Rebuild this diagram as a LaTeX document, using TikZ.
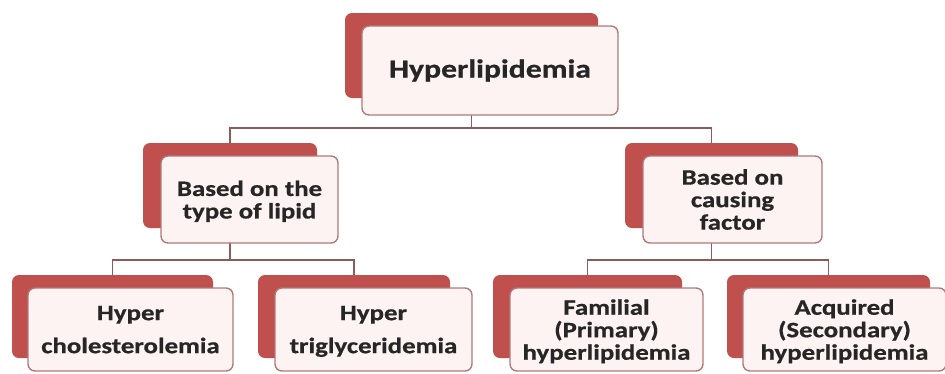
\documentclass[tikz,border=0pt]{standalone}
\usepackage{fontspec}
\newfontfamily\lblfont{Carlito}[FakeStretch=1.22, BoldFeatures={FakeBold=0.7}]
\definecolor{redA}{HTML}{C0504D}
\definecolor{paleC}{HTML}{FDF3F3}
\definecolor{edgeC}{HTML}{B07A7A}
\definecolor{linkC}{HTML}{8E5B5B}
\definecolor{inkC}{HTML}{262626}
\pgfdeclarelayer{background}
\pgfsetlayers{background,main}
\tikzset{
  backbox/.style={fill=redA, rounded corners=7pt, inner sep=0pt, anchor=center},
  frontbox/.style={draw=edgeC, line width=1.4pt, fill=paleC, rounded corners=7pt,
    inner sep=0pt, anchor=center, align=center, text=inkC,
    font={\lblfont\bfseries\fontsize{22}{22.5}\selectfont}},
  toptext/.style={font={\lblfont\bfseries\fontsize{26}{28}\selectfont}},
  widelines/.style={font={\lblfont\bfseries\fontsize{22}{33}\selectfont}},
  link/.style={draw=linkC, line width=1.5pt}
}
\begin{document}
\begin{tikzpicture}[x=1pt,y=-1pt]
\useasboundingbox (0,0) rectangle (945,373);
\begin{scope}
\clip (0,0) rectangle (945,373);
% root
\node[backbox, minimum width=253pt, minimum height=85pt] (rootB) at (471.5,55.5) {};
\node[frontbox, toptext, minimum width=256pt, minimum height=89pt] (root) at (490,70.5) {Hyperlipidemia};
% first level
\node[backbox, minimum width=174pt, minimum height=85pt] (lipidB) at (230,185.5) {};
\node[frontbox, minimum width=177pt, minimum height=87pt, text depth=0pt] (lipid) at (249.5,199.5) {Based on the\\type of lipid};
\node[backbox, minimum width=173pt, minimum height=85pt] (causeB) at (711.5,185.5) {};
\node[frontbox, minimum width=179pt, minimum height=87pt] (cause) at (732.5,199.5) {Based on\\causing\\factor};
% second level
\node[backbox, minimum width=201pt, minimum height=83pt] (cholB) at (112.5,316.5) {};
\node[frontbox, widelines, minimum width=205pt, minimum height=83pt, text depth=-1pt] (chol) at (130.5,329.5) {Hyper\\cholesterolemia};
\node[backbox, minimum width=192pt, minimum height=83pt] (trigB) at (354,316.5) {};
\node[frontbox, widelines, minimum width=197pt, minimum height=83pt, text depth=-1pt] (trig) at (373.5,329.5) {Hyper\\triglyceridemia};
\node[backbox, minimum width=189pt, minimum height=83pt] (famB) at (587.5,316.5) {};
\node[frontbox, minimum width=193pt, minimum height=83pt, text depth=0pt] (fam) at (606.5,329.5) {Familial\\(Primary)\\hyperlipidemia};
\node[backbox, minimum width=203pt, minimum height=83pt] (acqB) at (828.5,316.5) {};
\node[frontbox, minimum width=203pt, minimum height=83pt, text depth=0pt] (acq) at (844.5,329.5) {Acquired\\(Secondary)\\hyperlipidemia};
\end{scope}
% tree connectors behind the boxes
\begin{pgfonlayer}{background}
  \draw[link] (rootB.south) -- ++(0,30) -| (lipidB.north);
  \draw[link] (rootB.south) -- ++(0,30) -| (causeB.north);
  \draw[link] (lipidB.south) -- ++(0,32) -| (cholB.north);
  \draw[link] (lipidB.south) -- ++(0,32) -| (trigB.north);
  \draw[link] (causeB.south) -- ++(0,32) -| (famB.north);
  \draw[link] (causeB.south) -- ++(0,32) -| (acqB.north);
\end{pgfonlayer}
\end{tikzpicture}
\end{document}
